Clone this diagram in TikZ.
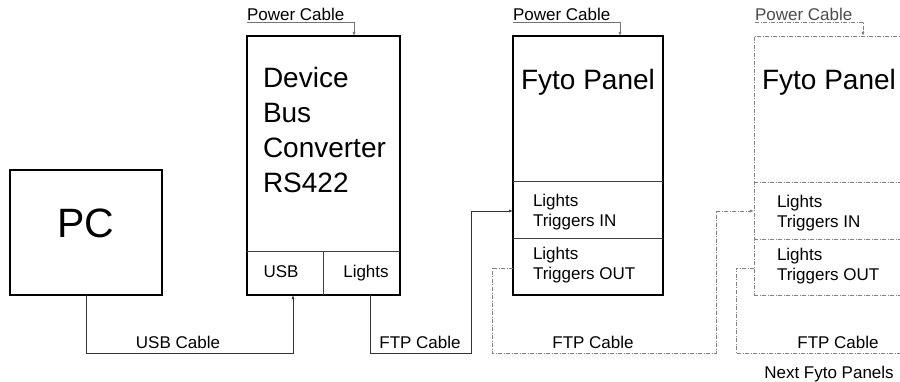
\documentclass[tikz,border=0pt]{standalone}
\usepackage{fontspec}
\setmainfont{Liberation Sans}
\usetikzlibrary{arrows.meta,calc}

\begin{document}
\begin{tikzpicture}[x=1pt, y=-1pt, >={Latex[length=4pt,width=3pt]},
	every node/.style={inner sep=0pt, outer sep=0pt, font=\fontsize{17}{20}\selectfont},
	box/.style={draw, line width=1.3pt},
	ghost/.style={draw=gray, line width=0.9pt, dash pattern=on 4pt off 1.5pt on 1pt off 1.5pt},
	div/.style={black!75, line width=1pt},
	cable/.style={black!80, line width=0.9pt},
	dcable/.style={gray, line width=0.9pt, dash pattern=on 4pt off 1.5pt on 1pt off 1.5pt},
	pline/.style={black!55, line width=0.9pt},
	pwr/.style={anchor=south west, inner ysep=1.5pt, font=\fontsize{17}{18}\selectfont},
	big/.style={font=\fontsize{28}{35}\selectfont}]
	\useasboundingbox (0,0) rectangle (900,382);
	\clip (0,0) rectangle (900,382);
	% boxes
	\node[box, minimum width=152pt, minimum height=125pt] (PC) at (86,232.5) {};
	\node[box, minimum width=153pt, minimum height=259pt] (DBC) at (323.5,165.5) {};
	\node[box, minimum width=150pt, minimum height=259pt] (FP1) at (588,165.5) {};
	\node[ghost, minimum width=150pt, minimum height=259pt] (FP2) at (829,165.5) {};
	\draw[div] (DBC.west |- 0,252) -- (DBC.east |- 0,252);
	\draw[div] (323,252) -- (DBC.south -| 323,0);
	\foreach \y in {182,239} {
		\draw[div] (FP1.west |- 0,\y) -- (FP1.east |- 0,\y);
		\draw[dcable] (FP2.west |- 0,\y) -- (FP2.east |- 0,\y);
	}
	% texts
	\node[font=\fontsize{41}{41}\selectfont] (pct) at (86,223) {PC};
	\node[big, align=left, anchor=north west] (dbct) at (263,67) {Device\\Bus\\Converter\\RS422};
	\node[anchor=base] (usb) at (281,277) {USB};
	\node[anchor=base] (lt) at (366,278) {Lights};
	\node[big, anchor=base] (fp1t) at (588,90) {Fyto Panel};
	\node[big, anchor=base] (fp2t) at (829,90) {Fyto Panel};
	\node[align=left, anchor=north west] (in1t) at (533,194) {Lights\\Triggers IN};
	\node[align=left, anchor=north west] (out1t) at (533,247) {Lights\\Triggers OUT};
	\node[align=left, anchor=north west] (in2t) at (777,195) {Lights\\Triggers IN};
	\node[align=left, anchor=north west] (out2t) at (777,248) {Lights\\Triggers OUT};
	\node (usbc) at (178,342) {USB Cable};
	\node (ftp1) at (420,342) {FTP Cable};
	\node (ftp2) at (593,342) {FTP Cable};
	\node (ftp3) at (838,342) {FTP Cable};
	\node[anchor=base] (next) at (829,378) {Next Fyto Panels};
	% power
	\node[pwr] (pw1) at (247,22) {Power Cable};
	\node[pwr] (pw2) at (513,22) {Power Cable};
	\node[pwr, text=black!70] (pw3) at (755,22) {Power Cable};
	\coordinate (pin1) at (DBC.north -| 354,0);
	\coordinate (pin2) at (FP1.north -| 620,0);
	\coordinate (pin3) at (FP2.north -| 863,0);
	\draw[pline,->] (pw1.south west) -| (pin1);
	\draw[pline,->] (pw2.south west) -| (pin2);
	\draw[dcable,->] (pw3.south west) -| (pin3);
	% cables
	\coordinate (usbin) at (DBC.south -| 293,0);
	\coordinate (ltout) at (DBC.south -| 370,0);
	\coordinate (in1) at (FP1.west |- 0,211);
	\coordinate (out1) at (FP1.west |- 0,268);
	\coordinate (in2) at (FP2.west |- 0,211);
	\coordinate (out2) at (FP2.west |- 0,268);
	\coordinate (nxt) at (910,353);
	\draw[cable,->] (PC.south) |- (usbin |- 0,353) -- (usbin);
	\draw[cable,->] (ltout) |- (471,353) |- (in1);
	\draw[dcable,->] (out1) -| (492,353) -| (716,211) -- (in2);
	\draw[dcable] (out2) -| (736,353) -- (nxt);
\end{tikzpicture}
\end{document}
